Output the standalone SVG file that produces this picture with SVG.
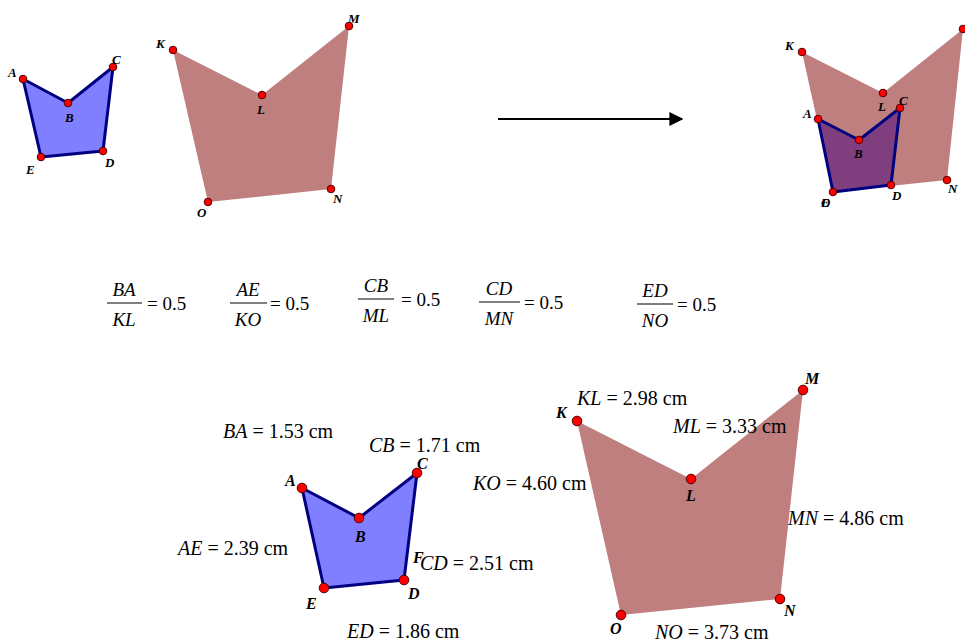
<svg xmlns="http://www.w3.org/2000/svg" width="965" height="643" viewBox="0 0 965 643">
<defs>
<style>
.blue{fill:#0000ff;fill-opacity:0.5;stroke:none}
.bedge{fill:none;stroke:#000080;stroke-width:3;stroke-linejoin:round}
.brown{fill:#800000;fill-opacity:0.5;stroke:none}
.pt{fill:#ff0000;stroke:#500000;stroke-width:1}
text{font-family:"Liberation Serif","Times New Roman",serif;fill:#000}
.lbl{font-style:italic;font-weight:bold}
.s{font-size:13px}
.m{font-size:16px}
.fr{font-size:19px}
.ms{font-size:20px}
.i{font-style:italic}
.bar{stroke:#000;stroke-width:1.2}
</style>
<marker id="ah" viewBox="0 0 10 10" refX="9" refY="5" markerWidth="7" markerHeight="7" orient="auto" markerUnits="strokeWidth">
<path d="M0,0 L10,5 L0,10 z" fill="#000"/>
</marker>
</defs>
<rect width="965" height="643" fill="#fff"/>

<g id="top-left-abcde">
<polygon class="blue" points="23,79 68,103 113,67 103,151 41,157"/>
<polygon class="bedge" points="23,79 68,103 113,67 103,151 41,157"/>
<circle class="pt" cx="23" cy="79" r="3.8"/><circle class="pt" cx="68" cy="103" r="3.8"/><circle class="pt" cx="113" cy="67" r="3.8"/><circle class="pt" cx="103" cy="151" r="3.8"/><circle class="pt" cx="41" cy="157" r="3.8"/>
<text class="lbl s" x="8" y="77">A</text>
<text class="lbl s" x="65" y="122">B</text>
<text class="lbl s" x="112" y="64">C</text>
<text class="lbl s" x="105" y="167">D</text>
<text class="lbl s" x="26" y="174">E</text>
</g>

<g id="top-left-klmno">
<polygon class="brown" points="173,50 262,95 349,26 331,189 208,202"/>
<circle class="pt" cx="173" cy="50" r="3.8"/><circle class="pt" cx="262" cy="95" r="3.8"/><circle class="pt" cx="349" cy="26" r="3.8"/><circle class="pt" cx="331" cy="189" r="3.8"/><circle class="pt" cx="208" cy="202" r="3.8"/>
<text class="lbl s" x="156" y="48">K</text>
<text class="lbl s" x="257" y="114">L</text>
<text class="lbl s" x="348" y="23">M</text>
<text class="lbl s" x="333" y="203">N</text>
<text class="lbl s" x="197" y="217">O</text>
</g>

<g id="connectors">
<line x1="498" y1="119" x2="682" y2="119" stroke="#000" stroke-width="2" marker-end="url(#ah)"/>
</g>

<g id="top-right-overlay">
<polygon class="blue" points="818,119 859,140 900,108 891,185 833,192"/>
<polygon class="brown" points="802,52 883,93 963,29 947,180 833,192"/>
<polygon class="bedge" points="818,119 859,140 900,108 891,185 833,192"/>
<circle class="pt" cx="802" cy="52" r="3.8"/><circle class="pt" cx="883" cy="93" r="3.8"/><circle class="pt" cx="963" cy="29" r="3.8"/><circle class="pt" cx="947" cy="180" r="3.8"/>
<circle class="pt" cx="818" cy="119" r="3.8"/><circle class="pt" cx="859" cy="140" r="3.8"/><circle class="pt" cx="900" cy="108" r="3.8"/><circle class="pt" cx="891" cy="185" r="3.8"/><circle class="pt" cx="833" cy="192" r="3.8"/>
<text class="lbl s" x="785" y="50">K</text>
<text class="lbl s" x="878" y="111">L</text>
<text class="lbl s" x="899" y="105">C</text>
<text class="lbl s" x="803" y="118">A</text>
<text class="lbl s" x="854" y="158">B</text>
<text class="lbl s" x="892" y="200">D</text>
<text class="lbl s" x="821" y="207">E</text>
<text class="lbl s" x="821" y="207">O</text>
<text class="lbl s" x="948" y="193">N</text>
</g>

<g id="ratios" class="fr">
<text class="i" x="124" y="296" text-anchor="middle">BA</text>
<line class="bar" x1="107" y1="303" x2="142" y2="303"/>
<text class="i" x="124" y="326" text-anchor="middle">KL</text>
<text x="147" y="310">= 0.5</text>

<text class="i" x="248" y="296" text-anchor="middle">AE</text>
<line class="bar" x1="230" y1="303" x2="267" y2="303"/>
<text class="i" x="248" y="326" text-anchor="middle">KO</text>
<text x="270" y="310">= 0.5</text>

<text class="i" x="376" y="292" text-anchor="middle">CB</text>
<line class="bar" x1="358" y1="299" x2="394" y2="299"/>
<text class="i" x="376" y="322" text-anchor="middle">ML</text>
<text x="401" y="306">= 0.5</text>

<text class="i" x="499" y="295" text-anchor="middle">CD</text>
<line class="bar" x1="479" y1="302" x2="520" y2="302"/>
<text class="i" x="499" y="325" text-anchor="middle">MN</text>
<text x="524" y="309">= 0.5</text>

<text class="i" x="655" y="297" text-anchor="middle">ED</text>
<line class="bar" x1="637" y1="304" x2="673" y2="304"/>
<text class="i" x="655" y="327" text-anchor="middle">NO</text>
<text x="677" y="311">= 0.5</text>
</g>

<g id="bottom-abcde">
<polygon class="blue" points="302,488 359,518 417,473 404,580 324,588"/>
<polygon class="bedge" points="302,488 359,518 417,473 404,580 324,588"/>
<circle class="pt" cx="302" cy="488" r="4.8"/><circle class="pt" cx="359" cy="518" r="4.8"/><circle class="pt" cx="417" cy="473" r="4.8"/><circle class="pt" cx="404" cy="580" r="4.8"/><circle class="pt" cx="324" cy="588" r="4.8"/>
<text class="lbl m" x="285" y="486">A</text>
<text class="lbl m" x="355" y="542">B</text>
<text class="lbl m" x="417" y="469">C</text>
<text class="lbl m" x="408" y="599">D</text>
<text class="lbl m" x="306" y="609">E</text>
<text class="lbl m" x="413" y="563">F</text>
</g>

<g id="bottom-klmno">
<polygon class="brown" points="577,421 691,479 803,390 780,599 621,615"/>
<circle class="pt" cx="577" cy="421" r="4.8"/><circle class="pt" cx="691" cy="479" r="4.8"/><circle class="pt" cx="803" cy="390" r="4.8"/><circle class="pt" cx="780" cy="599" r="4.8"/><circle class="pt" cx="621" cy="615" r="4.8"/>
<text class="lbl m" x="556" y="418">K</text>
<text class="lbl m" x="686" y="501">L</text>
<text class="lbl m" x="805" y="384">M</text>
<text class="lbl m" x="784" y="616">N</text>
<text class="lbl m" x="610" y="634">O</text>
</g>

<g id="measurements" class="ms">
<text x="223" y="438"><tspan class="i">BA</tspan> = 1.53 cm</text>
<text x="369" y="452"><tspan class="i">CB</tspan> = 1.71 cm</text>
<text x="473" y="490"><tspan class="i">KO</tspan> = 4.60 cm</text>
<text x="178" y="555"><tspan class="i">AE</tspan> = 2.39 cm</text>
<text x="420" y="570"><tspan class="i">CD</tspan> = 2.51 cm</text>
<text x="347" y="638"><tspan class="i">ED</tspan> = 1.86 cm</text>
<text x="577" y="405"><tspan class="i">KL</tspan> = 2.98 cm</text>
<text x="673" y="433"><tspan class="i">ML</tspan> = 3.33 cm</text>
<text x="788" y="525"><tspan class="i">MN</tspan> = 4.86 cm</text>
<text x="655" y="639"><tspan class="i">NO</tspan> = 3.73 cm</text>
</g>
</svg>
